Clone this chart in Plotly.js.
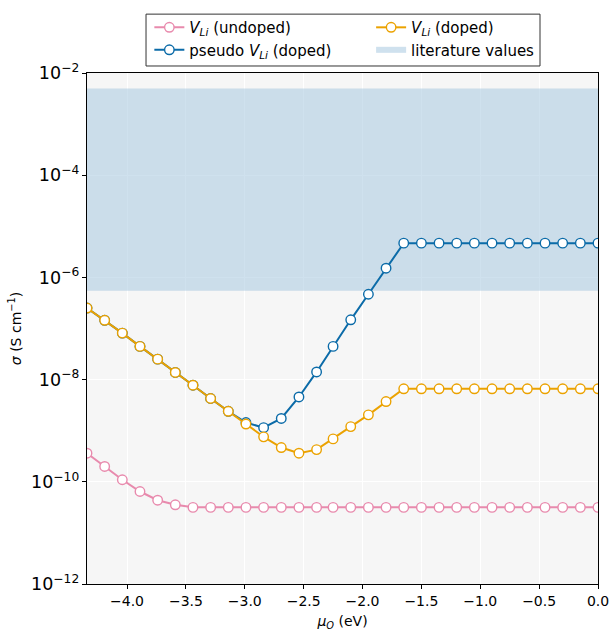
<!DOCTYPE html>
<html>
<head>
<meta charset="utf-8">
<script src="https://cdn.plot.ly/plotly-3.0.1.min.js"></script>
<style>html,body{margin:0;padding:0;background:#fff;}#chart{width:613px;height:631px;}</style>
</head>
<body>
<div id="chart"></div>
<script>
// chemical potential of oxygen (eV)
const muO = [-4.34, -4.19, -4.04, -3.89, -3.74, -3.59, -3.44, -3.29, -3.14, -2.99,
             -2.84, -2.69, -2.54, -2.39, -2.25, -2.10, -1.95, -1.80, -1.65, -1.50,
             -1.35, -1.20, -1.05, -0.90, -0.75, -0.60, -0.45, -0.30, -0.15, 0.00];
// log10 conductivity (S/cm)
const logUndoped = [-9.44, -9.70, -9.96, -10.19, -10.36, -10.45, -10.50, -10.50, -10.50, -10.50,
                    -10.50, -10.50, -10.50, -10.50, -10.50, -10.50, -10.50, -10.50, -10.50, -10.50,
                    -10.50, -10.50, -10.50, -10.50, -10.50, -10.50, -10.50, -10.50, -10.50, -10.50];
const logPseudoDoped = [-6.60, -6.84, -7.09, -7.35, -7.60, -7.86, -8.11, -8.37, -8.62, -8.84,
                        -8.94, -8.76, -8.34, -7.85, -7.35, -6.83, -6.33, -5.82, -5.33, -5.33,
                        -5.33, -5.33, -5.33, -5.33, -5.33, -5.33, -5.33, -5.33, -5.33, -5.33];
const logDoped = [-6.60, -6.84, -7.09, -7.35, -7.60, -7.86, -8.11, -8.37, -8.62, -8.87,
                  -9.12, -9.33, -9.44, -9.37, -9.16, -8.92, -8.69, -8.43, -8.18, -8.18,
                  -8.18, -8.18, -8.18, -8.18, -8.18, -8.18, -8.18, -8.18, -8.18, -8.18];
const litRange = [5.5e-7, 5.0e-3];
const xRange = [-4.34, 0.0];
const xTicks = [-4.0, -3.5, -3.0, -2.5, -2.0, -1.5, -1.0, -0.5, 0.0];

const toLin = a => a.map(v => Math.pow(10, v));
const font = 'DejaVu Sans, sans-serif';

function series(name, y, color, leg, rank) {
  return {
    x: muO, y: toLin(y), name: name, type: 'scatter', mode: 'lines+markers',
    legend: leg, legendrank: rank,
    line: {color: color, width: 2},
    marker: {symbol: 'circle', size: 9.5, color: '#ffffff', line: {color: color, width: 1.4}}
  };
}

const lit = {
  x: [xRange[0], xRange[1], xRange[1], xRange[0], xRange[0]],
  y: [litRange[0], litRange[0], litRange[1], litRange[1], litRange[0]],
  type: 'scatter', mode: 'none', fill: 'toself', fillcolor: 'rgba(160,196,222,0.5)',
  name: 'literature values', legend: 'legend2', legendrank: 2, hoverinfo: 'skip'
};

const data = [
  lit,
  series('<i>V<sub>Li</sub></i> (undoped)', logUndoped, '#e88aad', 'legend', 1),
  series('pseudo <i>V<sub>Li</sub></i> (doped)', logPseudoDoped, '#0b6ba8', 'legend', 2),
  series('<i>V<sub>Li</sub></i> (doped)', logDoped, '#eba200', 'legend2', 1)
];

const legCommon = {
  orientation: 'v', yanchor: 'top', xanchor: 'left', y: 1.119,
  bgcolor: 'rgba(0,0,0,0)', borderwidth: 0,
  font: {family: font, size: 15}, tracegroupgap: 0
};

const layout = {
  width: 613, height: 631,
  margin: {l: 87, r: 15, t: 72, b: 47, pad: 0},
  paper_bgcolor: '#ffffff', plot_bgcolor: '#f6f6f6',
  font: {family: font, size: 14, color: '#000'},
  showlegend: true,
  legend: Object.assign({}, legCommon, {x: 0.122}),
  legend2: Object.assign({}, legCommon, {x: 0.556}),
  shapes: [{
    type: 'rect', xref: 'paper', yref: 'paper',
    x0: 0.1155, x1: 0.8865, y0: 1.0137, y1: 1.1152,
    line: {color: '#333333', width: 1}, fillcolor: '#ffffff', layer: 'above'
  }],
  xaxis: {
    range: xRange, tickvals: xTicks, tickformat: '.1f',
    showline: true, linecolor: '#000', linewidth: 1, mirror: true,
    ticks: 'outside', ticklen: 4, tickcolor: '#000',
    showgrid: true, gridcolor: '#ffffff', gridwidth: 1, zeroline: false,
    title: {text: '<i>μ<sub>O</sub></i> (eV)', font: {size: 14}, standoff: 8}
  },
  yaxis: {
    type: 'log', range: [-12, -2], dtick: 2, exponentformat: 'power',
    showline: true, linecolor: '#000', linewidth: 1, mirror: true,
    ticks: 'outside', ticklen: 4, tickcolor: '#000',
    showgrid: true, gridcolor: '#ffffff', gridwidth: 1, zeroline: false,
    title: {text: '<i>σ</i> (S cm<sup>−1</sup>)', font: {size: 14}, standoff: 6}
  }
};

Plotly.newPlot('chart', data, layout, {displayModeBar: false, staticPlot: true});
</script>
</body>
</html>
